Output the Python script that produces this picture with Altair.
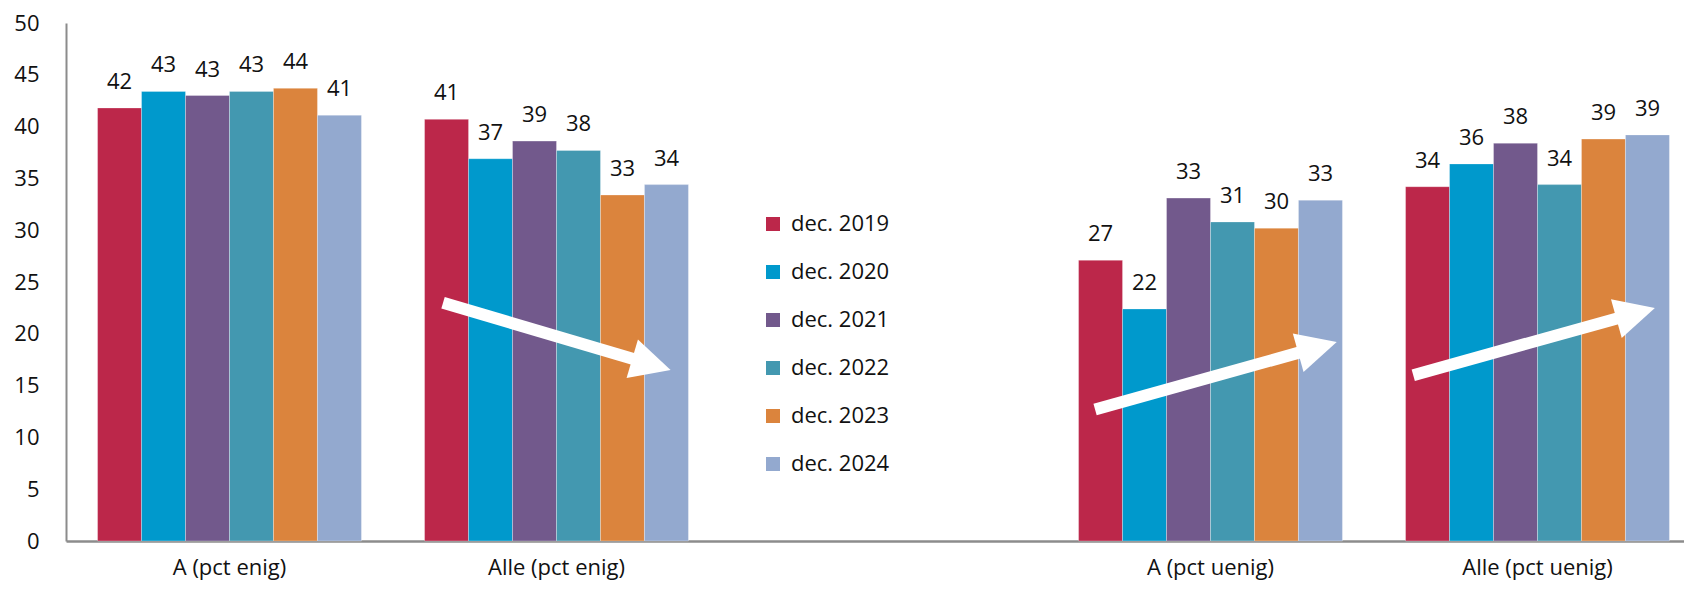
import math
import altair as alt
import pandas as pd

# ---------------- data ----------------
categories = ["A (pct enig)", "Alle (pct enig)", " ", "A (pct uenig)", "Alle (pct uenig)"]
bar_categories = ["A (pct enig)", "Alle (pct enig)", "A (pct uenig)", "Alle (pct uenig)"]
years = ["dec. 2019", "dec. 2020", "dec. 2021", "dec. 2022", "dec. 2023", "dec. 2024"]

dec2019 = [41.8, 40.7, 27.1, 34.2]
dec2020 = [43.4, 36.9, 22.4, 36.4]
dec2021 = [43.0, 38.6, 33.1, 38.4]
dec2022 = [43.4, 37.7, 30.8, 34.4]
dec2023 = [43.7, 33.4, 30.2, 38.8]
dec2024 = [41.1, 34.4, 32.9, 39.2]
series = [dec2019, dec2020, dec2021, dec2022, dec2023, dec2024]

colors = ["#BC274A", "#0099CC", "#72598C", "#4398B0", "#DB843D", "#93A9CF"]

# trend arrows (x in category-slot units, y in chart value units)
arrow_x_start = [1.153, 3.147, 4.120]
arrow_y_start = [23.0, 12.7, 16.0]
arrow_x_tip = [1.849, 3.886, 4.859]
arrow_y_tip = [16.5, 19.2, 22.5]

# ---------------- layout constants ----------------
FONT = "Open Sans"
RANGE_W = 1635          # pixel extent of the 5 category slots
PLOT_W = 1618
PLOT_H = 518
STEP = RANGE_W / len(categories)
PX_PER_UNIT = PLOT_H / 50.0
HEAD = 40               # arrow head length in px

rows = []
for yi, yr in enumerate(years):
    for ci, cat in enumerate(bar_categories):
        rows.append({"category": cat, "year": yr, "value": series[yi][ci]})
df = pd.DataFrame(rows)

arows = []
for xs, ys, xt, yt in zip(arrow_x_start, arrow_y_start, arrow_x_tip, arrow_y_tip):
    dxp = (xt - xs) * STEP
    dyp = (yt - ys) * PX_PER_UNIT
    L = math.hypot(dxp, dyp)
    ux, uy = dxp / L, dyp / L
    back = HEAD * 0.75
    xe = xt - back * ux / STEP
    ye = yt - back * uy / PX_PER_UNIT
    ang = math.degrees(math.atan2(-dyp, dxp)) % 360
    arows.append({"xs": xs, "ys": ys, "xe": xe, "ye": ye, "xt": xt, "yt": yt, "angle": ang})
adf = pd.DataFrame(arows)

# ---------------- chart ----------------
xscale = alt.Scale(domain=categories, range=[0, RANGE_W], paddingInner=0.193, paddingOuter=0.0965)
yscale = alt.Scale(domain=[0, 50], nice=False)
offscale = alt.Scale(domain=years, paddingInner=0, paddingOuter=0)

x_enc = alt.X("category:N", scale=xscale,
              axis=alt.Axis(title=None, labelAngle=0, ticks=False, labelFontSize=22, labelFont=FONT,
                            labelColor="#111", labelPadding=16, domainColor="#8c8c8c", domainWidth=2.5))

base = alt.Chart(df).encode(
    x=x_enc,
    xOffset=alt.XOffset("year:N", scale=offscale),
    y=alt.Y("value:Q", scale=yscale,
            axis=alt.Axis(title=None, values=list(range(0, 51, 5)), ticks=False, grid=False,
                          labelPadding=27, labelFontSize=22, labelFont=FONT, labelColor="#111",
                          domainColor="#8c8c8c", domainWidth=2)),
)

bars = base.mark_bar(stroke="#ffffff", strokeWidth=0.6, strokeOpacity=0.5).encode(
    color=alt.Color("year:N", scale=alt.Scale(domain=years, range=colors),
                    legend=alt.Legend(title=None, orient="none", legendX=696, legendY=190,
                                      symbolType="square", symbolSize=196, symbolStrokeWidth=0,
                                      labelFontSize=22, labelFont=FONT, labelColor="#111",
                                      rowPadding=26, labelOffset=7, padding=0)),
)

labels = base.mark_text(dy=-26, baseline="middle", fontSize=22, font=FONT, color="#111").encode(
    text=alt.Text("value:Q", format=".0f"),
)

ax = alt.Scale(domain=[0, len(categories)], range=[0, RANGE_W])
shafts = alt.Chart(adf).mark_rule(color="white", strokeWidth=12, strokeCap="butt").encode(
    x=alt.X("xs:Q", scale=ax, axis=None),
    x2="xe:Q",
    y=alt.Y("ys:Q", scale=yscale),
    y2="ye:Q",
)
heads = alt.Chart(adf).mark_point(shape="M0,0L-2,-1L-2,1Z", size=HEAD * HEAD, filled=True,
                                  color="white", opacity=1, strokeWidth=0).encode(
    x=alt.X("xt:Q", scale=ax, axis=None),
    y=alt.Y("yt:Q", scale=yscale),
    angle=alt.Angle("angle:Q", scale=None),
)

chart = alt.layer(
    alt.layer(bars, labels),
    alt.layer(shafts, heads),
).resolve_scale(x="independent").properties(
    width=PLOT_W, height=PLOT_H,
    autosize=alt.AutoSizeParams(type="none"),
    padding={"left": 58, "top": 15, "right": 0, "bottom": 40},
).configure(font=FONT).configure_view(stroke=None)

chart.save("out.html", embed_options={"renderer": "svg", "actions": False})
